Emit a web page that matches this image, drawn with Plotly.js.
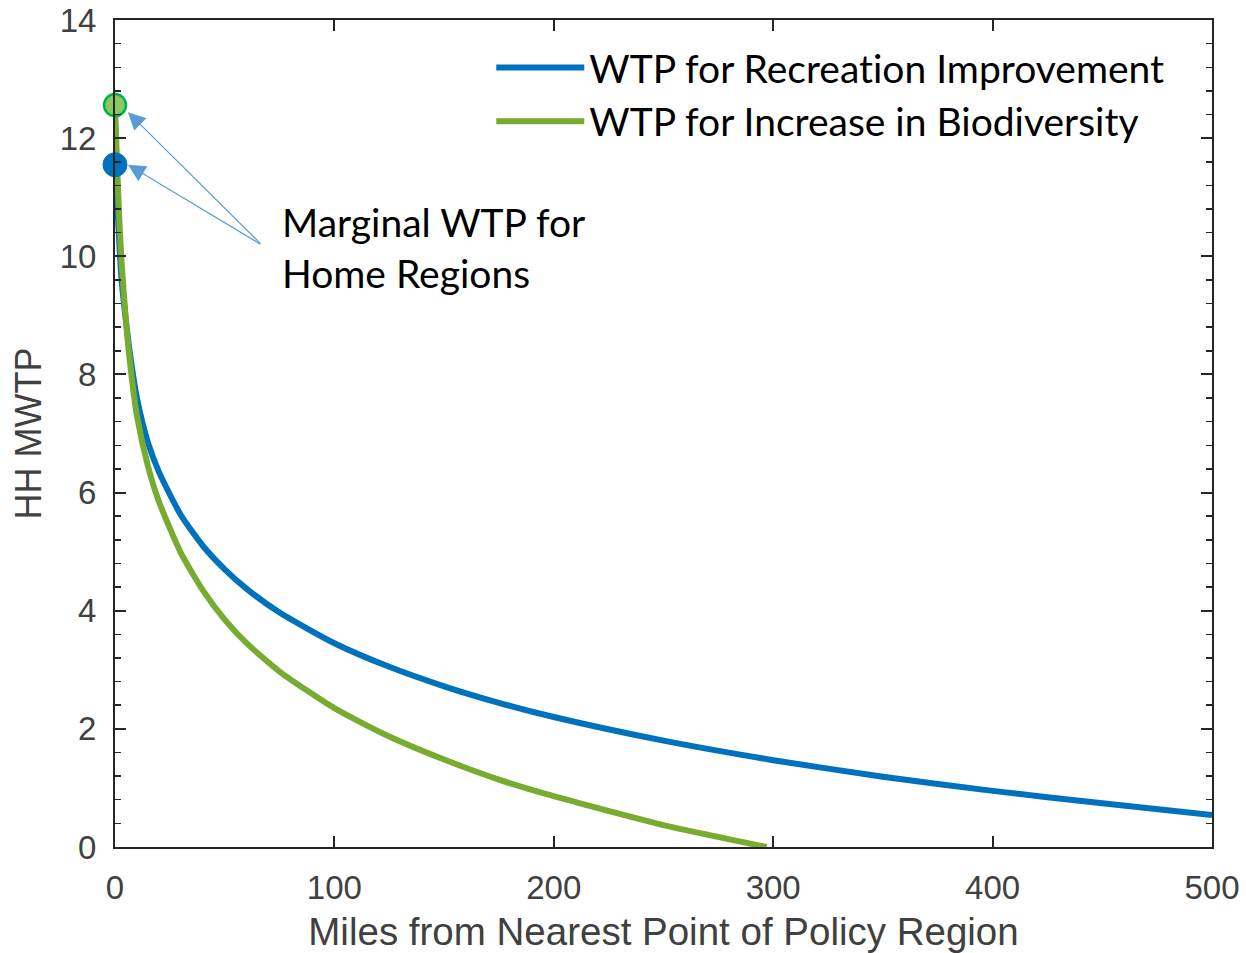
<!DOCTYPE html>
<html>
<head>
<meta charset="utf-8">
<script src="https://cdn.plot.ly/plotly-3.0.1.min.js"></script>
<style>html,body{margin:0;padding:0;background:#fff;}#chart{width:1246px;height:953px;}
#chart text{font-variant-ligatures:none;font-feature-settings:"liga" 0;}</style>
</head>
<body>
<div id="chart"></div>
<script>
// Distance (miles) sample points
const milesRec = [0, 1, 2, 3, 5, 7, 10, 15, 20, 30, 40, 50, 60, 75, 100, 125, 150, 175, 200, 250, 300, 350, 400, 450, 500];
const wtpRecreation = [11.55, 10.9, 10.2, 9.6, 8.9, 8.3, 7.6, 6.85, 6.35, 5.62, 5.1, 4.7, 4.37, 3.97, 3.45, 3.05, 2.72, 2.44, 2.2, 1.8, 1.47, 1.19, 0.95, 0.74, 0.54];
const milesBio = [0, 1, 2, 3, 5, 7, 10, 15, 20, 30, 40, 50, 60, 75, 100, 125, 150, 175, 200, 250, 297];
const wtpBiodiversity = [12.56, 11.5, 10.6, 9.9, 8.9, 8.15, 7.3, 6.45, 5.85, 4.98, 4.35, 3.85, 3.45, 2.97, 2.35, 1.87, 1.48, 1.14, 0.86, 0.37, 0];
// Home-region marginal WTP points
const homeX = [0, 0];
const homeY = [11.55, 12.56];
const seriesNames = ['WTP for Recreation Improvement', 'WTP for Increase in Biodiversity'];
const xTicks = [0, 100, 200, 300, 400, 500];
const yTicks = [0, 2, 4, 6, 8, 10, 12, 14];
const noteLines = ['Marginal WTP for', 'Home Regions'];

const BLUE = '#0072BD', GREEN = '#77AC30', ARROW = '#5B9BD5', AX = '#262626', LBL = '#404040';
const txtFont = 'Lato, "Open Sans", sans-serif';
const axFont = 'Liberation Sans, Arial, sans-serif';

const traces = [
  {x: milesRec, y: wtpRecreation, type: 'scatter', mode: 'lines', name: seriesNames[0],
   line: {color: BLUE, width: 6, shape: 'spline', smoothing: 0.6}},
  {x: milesBio, y: wtpBiodiversity, type: 'scatter', mode: 'lines', name: seriesNames[1],
   line: {color: GREEN, width: 6, shape: 'spline', smoothing: 0.6}},
  {x: [homeX[0]], y: [homeY[0]], type: 'scatter', mode: 'markers', showlegend: false, cliponaxis: false,
   marker: {size: 24, color: BLUE, line: {color: BLUE, width: 1}}},
  {x: [homeX[1]], y: [homeY[1]], type: 'scatter', mode: 'markers', showlegend: false, cliponaxis: false,
   marker: {size: 22, color: '#8CC860', line: {color: '#00B050', width: 2.5}}}
];

const tailX = 67, tailY = 10.19;
const annotations = [
  {x: 5.9, y: homeY[1] - 0.12, ax: tailX, ay: tailY, axref: 'x', ayref: 'y', xref: 'x', yref: 'y',
   text: '', showarrow: true, arrowhead: 2, arrowsize: 2.9, arrowwidth: 1.2, arrowcolor: ARROW},
  {x: 5.9, y: homeY[0], ax: tailX, ay: tailY, axref: 'x', ayref: 'y', xref: 'x', yref: 'y',
   text: '', showarrow: true, arrowhead: 2, arrowsize: 2.9, arrowwidth: 1.2, arrowcolor: ARROW},
  {x: 75, y: 10.58, xref: 'x', yref: 'y', xanchor: 'left', yanchor: 'middle', showarrow: false,
   text: noteLines[0], font: {family: txtFont, size: 39, color: '#000'}},
  {x: 75, y: 9.72, xref: 'x', yref: 'y', xanchor: 'left', yanchor: 'middle', showarrow: false,
   text: noteLines[1], font: {family: txtFont, size: 39, color: '#000'}}
];

const layout = {
  width: 1246, height: 953,
  margin: {l: 115, r: 34, t: 20, b: 106},
  paper_bgcolor: '#fff', plot_bgcolor: '#fff',
  showlegend: true,
  legend: {x: 0.343, y: 0.981, xanchor: 'left', yanchor: 'top', bgcolor: 'rgba(0,0,0,0)',
           font: {family: txtFont, size: 39, color: '#000'}, itemwidth: 88, tracegroupgap: 0},
  xaxis: {range: [0, 500], tickvals: xTicks, ticks: 'inside', ticklen: 11, tickwidth: 2, tickcolor: AX,
          showline: true, linecolor: AX, linewidth: 2, mirror: 'ticks', showgrid: false, zeroline: false,
          tickfont: {family: axFont, size: 33, color: LBL}, ticklabelstandoff: 10,
          title: {text: 'Miles from Nearest Point of Policy Region', standoff: 14,
                  font: {family: axFont, size: 38.5, color: LBL}}},
  yaxis: {range: [0, 14], tickvals: yTicks, ticks: 'inside', ticklen: 11, tickwidth: 2, tickcolor: AX,
          showline: true, linecolor: AX, linewidth: 2, mirror: 'ticks', showgrid: false, zeroline: false,
          minor: {dtick: 0.4, ticks: 'inside', ticklen: 6, tickwidth: 1.5, tickcolor: AX, showgrid: false},
          tickfont: {family: axFont, size: 33, color: LBL}, ticklabelstandoff: 10,
          title: {text: 'HH MWTP', standoff: 7,
                  font: {family: axFont, size: 36, color: LBL}}},
  annotations: annotations
};

Plotly.newPlot('chart', traces, layout, {displayModeBar: false, staticPlot: true});
</script>
</body>
</html>
